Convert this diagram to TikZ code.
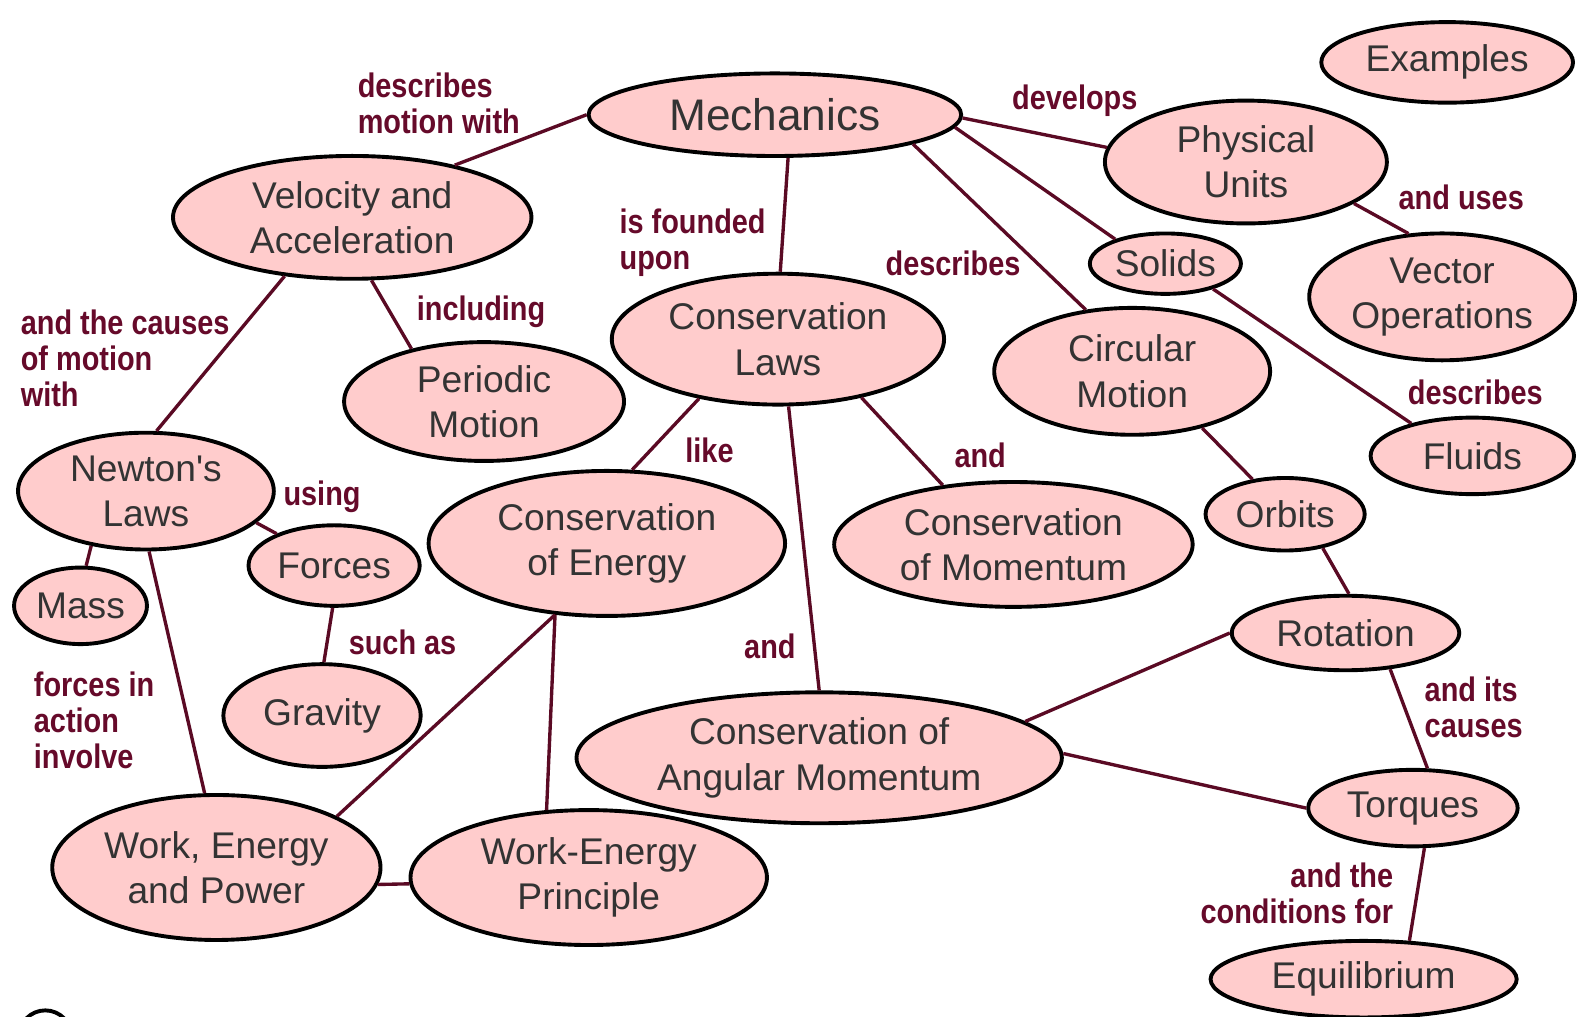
\documentclass[tikz,border=0pt]{standalone}
\usepackage{fontspec}
\setmainfont{Liberation Sans}[Ligatures=TeXOff]
\newfontfamily\lblfont[FakeStretch=0.85]{Liberation Sans}
\usepackage{tikz}
\usetikzlibrary{shapes.geometric}

\definecolor{conceptfill}{HTML}{FFCCCC}
\definecolor{conceptink}{HTML}{333333}
\definecolor{linkred}{HTML}{5A0A24}
\definecolor{labelred}{HTML}{660A2A}

\tikzset{
  concept/.style={ellipse, draw=black, line width=1.1pt, fill=conceptfill,
    inner sep=0pt, text=conceptink, align=center,
    font=\fontsize{10.5}{12.8}\selectfont},
  link/.style={draw=linkred, line width=0.95pt},
  linklabel/.style={text=labelred, inner sep=0pt,
    font=\lblfont\bfseries\fontsize{9.6}{10.2}\selectfont}
}

\begin{document}
\begin{tikzpicture}[x=0.01cm, y=-0.01cm]
        \useasboundingbox (0,0) rectangle (1568,1010);

        % Top row
        \node[concept, minimum width=3.70cm, minimum height=0.82cm, font=\fontsize{12.5}{14}\selectfont] (mech) at (770,114) {Mechanics};
        \node[concept, minimum width=2.50cm, minimum height=0.80cm] (examples) at (1438,62) {Examples};
        \node[concept, minimum width=2.80cm, minimum height=1.22cm] (units) at (1238,161) {Physical\\Units};
        \node[concept, minimum width=3.56cm, minimum height=1.22cm] (velacc) at (350,216) {Velocity and\\Acceleration};
        \node[concept, minimum width=1.50cm, minimum height=0.60cm] (solids) at (1158,262) {Solids};
        \node[concept, minimum width=2.64cm, minimum height=1.26cm] (vecops) at (1433,295) {Vector\\Operations};

        % Second row
        \node[concept, minimum width=3.30cm, minimum height=1.30cm] (conslaws) at (773,337) {Conservation\\Laws};
        \node[concept, minimum width=2.74cm, minimum height=1.26cm] (circ) at (1125,369) {Circular\\Motion};
        \node[concept, minimum width=2.78cm, minimum height=1.18cm] (periodic) at (481,399) {Periodic\\Motion};
        \node[concept, minimum width=2.02cm, minimum height=0.76cm] (fluids) at (1463,453) {Fluids};

        % Middle
        \node[concept, minimum width=2.54cm, minimum height=1.16cm] (newton) at (145,488) {Newton's\\Laws};
        \node[concept, minimum width=3.54cm, minimum height=1.44cm] (consen) at (603,540) {Conservation\\of Energy};
        \node[concept, minimum width=3.56cm, minimum height=1.24cm] (consmom) at (1007,541) {Conservation\\of Momentum};
        \node[concept, minimum width=1.58cm, minimum height=0.72cm] (orbits) at (1277,511) {Orbits};
        \node[concept, minimum width=1.70cm, minimum height=0.80cm] (forces) at (332,562) {Forces};
        \node[concept, minimum width=1.32cm, minimum height=0.76cm] (mass) at (80,602) {Mass};
        \node[concept, minimum width=2.26cm, minimum height=0.74cm] (rot) at (1337,629) {Rotation};
        \node[concept, minimum width=1.96cm, minimum height=1.02cm] (grav) at (320,711) {Gravity};

        % Bottom
        \node[concept, minimum width=4.82cm, minimum height=1.30cm] (angmom) at (814,753) {Conservation of\\Angular Momentum};
        \node[concept, minimum width=2.08cm, minimum height=0.76cm] (torq) at (1404,803) {Torques};
        \node[concept, minimum width=3.26cm, minimum height=1.44cm] (wep) at (215,862) {Work, Energy\\and Power};
        \node[concept, minimum width=3.54cm, minimum height=1.34cm] (weprin) at (585,872) {Work-Energy\\Principle};
        \node[concept, minimum width=3.04cm, minimum height=0.76cm] (equil) at (1355,973) {Equilibrium};

        % Cut-off shape at the lower edge
        \draw[line width=1.1pt] (45,1030) circle (0.26cm);

        % Links
        \draw[link] (mech.180) -- (velacc.27);
        \draw[link] (mech.-1) -- (units.174);
        \draw[link] (mech.-4) -- (solids.154);
        \draw[link] (mech.-12) -- (circ.127);
        \draw[link] (mech.-73) -- (conslaws.88);
        \draw[link] (units.-21) -- (vecops.118);
        \draw[link] (solids.-28) -- (fluids.152);
        \draw[link] (velacc.221) -- (newton.80);
        \draw[link] (velacc.-73) -- (periodic.144);
        \draw[link] (conslaws.-143) -- (consen.71);
        \draw[link] (conslaws.-81) -- (angmom.90);
        \draw[link] (conslaws.-35) -- (consmom.140);
        \draw[link] (circ.-39) -- (orbits.133);
        \draw[link] (orbits.-42) -- (rot.85);
        \draw[link] (rot.180) -- (angmom.10);
        \draw[link] (rot.-39) -- (torq.70);
        \draw[link] (angmom.1) -- (torq.180);
        \draw[link] (torq.-74) -- (equil.40);
        \draw[link] (newton.-16) -- (forces.151);
        \draw[link] (newton.-135) -- (mass.82);
        \draw[link] (newton.-87) -- (wep.99);
        \draw[link] (forces.-92) -- (grav.88);
        \draw[link] (consen.-126) -- (wep.23);
        \draw[link] (consen.-126) -- (weprin.122);
        \draw[link] (wep.-6) -- (weprin.182);

        % Link labels
        \node[linklabel, align=left] (lbmotion) at (436,103) {describes\\motion with};
        \node[linklabel] (lbdevelops) at (1068,100) {develops};
        \node[linklabel, align=left, anchor=west] (lbfounded) at (615,241) {is founded\\upon};
        \node[linklabel] (lbdescribes) at (947,262) {describes};
        \node[linklabel] (lbuses) at (1452,196) {and uses};
        \node[linklabel] (lbfluids) at (1466,390) {describes};
        \node[linklabel, align=left, anchor=west] (lbcauses) at (20,356) {and the causes\\of motion\\with};
        \node[linklabel] (lbincluding) at (478,310) {including};
        \node[linklabel] (lblike) at (705,448) {like};
        \node[linklabel] (lbandmom) at (974,452) {and};
        \node[linklabel] (lbandang) at (765,642) {and};
        \node[linklabel] (lbusing) at (320,494) {using};
        \node[linklabel] (lbsuchas) at (400,638) {such as};
        \node[linklabel, align=left, anchor=west] (lbforces) at (33,716) {forces in\\action\\involve};
        \node[linklabel, align=left, anchor=west] (lbits) at (1415,703) {and its\\causes};
        \node[linklabel, align=right, anchor=east] (lbcond) at (1385,888) {and the\\conditions for};
    \end{tikzpicture}
\end{document}
